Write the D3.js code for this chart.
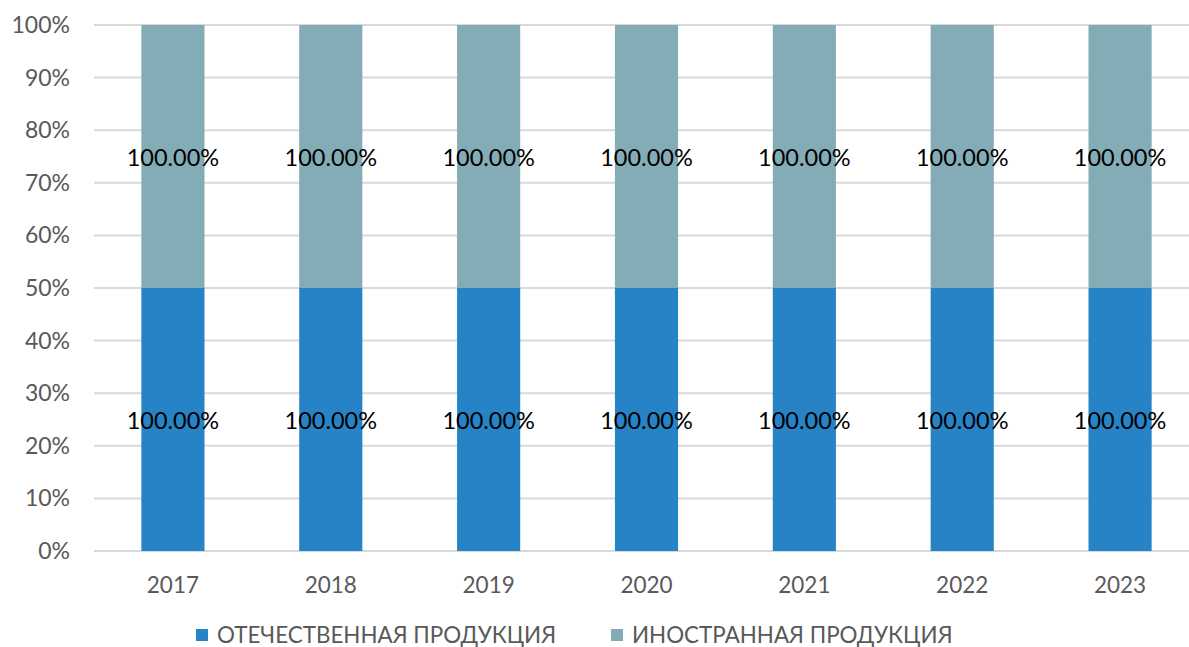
<!DOCTYPE html>
<html>
<head>
<meta charset="utf-8">
<script src="https://cdn.jsdelivr.net/npm/d3@7"></script>
<style>
  body { margin: 0; background: #fff; }
  svg { display: block; font-family: Lato, "Open Sans", sans-serif; }
</style>
</head>
<body>
<script>
const years = ['2017', '2018', '2019', '2020', '2021', '2022', '2023']
const seriesNames = ['ОТЕЧЕСТВЕННАЯ ПРОДУКЦИЯ', 'ИНОСТРАННАЯ ПРОДУКЦИЯ']
const domestic = [1, 1, 1, 1, 1, 1, 1]
const foreign = [1, 1, 1, 1, 1, 1, 1]
const yTicks = [0, 0.1, 0.2, 0.3, 0.4, 0.5, 0.6, 0.7, 0.8, 0.9, 1]
const colors = ['#2683C6', '#84ACB6']

const width = 1189, height = 647
const margin = {top: 25, right: -10, bottom: 96, left: 94}

const rows = years.map((y, i) => ({year: y, domestic: domestic[i], foreign: foreign[i]}))
const stack = d3.stack().keys(['domestic', 'foreign']).offset(d3.stackOffsetExpand)
const layers = stack(rows)

const x = d3.scaleBand()
  .domain(years)
  .range([margin.left, width - margin.right])
  .paddingInner(0.6)
  .paddingOuter(0.3)

const y = d3.scaleLinear()
  .domain([0, 1])
  .range([height - margin.bottom, margin.top])

const svg = d3.select('body').append('svg')
  .attr('width', width)
  .attr('height', height)

// gridlines
svg.append('g')
  .selectAll('line')
  .data(yTicks)
  .enter().append('line')
    .attr('x1', margin.left)
    .attr('x2', width - margin.right)
    .attr('y1', d => y(d))
    .attr('y2', d => y(d))
    .attr('stroke', '#D9D9D9')
    .attr('stroke-width', 2)

// y tick labels
svg.append('g')
  .selectAll('text')
  .data(yTicks)
  .enter().append('text')
    .attr('x', 70)
    .attr('y', d => y(d))
    .attr('dy', '0.35em')
    .attr('text-anchor', 'end')
    .attr('fill', '#595959')
    .style('font-size', '23px')
    .text(d3.format('.0%'))

// bars
const gLayers = svg.append('g')
  .selectAll('g')
  .data(layers)
  .enter().append('g')
    .attr('fill', (d, i) => colors[i])

gLayers.selectAll('rect')
  .data(d => d)
  .enter().append('rect')
    .attr('x', d => x(d.data.year))
    .attr('width', x.bandwidth())
    .attr('y', d => y(d[1]))
    .attr('height', d => y(d[0]) - y(d[1]))

// data labels (raw value shown as percent, like the original)
const gLabels = svg.append('g')
layers.forEach(layer => {
  gLabels.selectAll(null)
    .data(layer)
    .enter().append('text')
      .attr('x', d => x(d.data.year) + x.bandwidth() / 2)
      .attr('y', d => y((d[0] + d[1]) / 2) + 1)
      .attr('dy', '0.35em')
      .attr('text-anchor', 'middle')
      .attr('fill', '#000')
      .style('font-size', '23.5px')
      .text(d => d3.format('.2%')(d.data[layer.key]))
})

// x labels
svg.append('g')
  .selectAll('text')
  .data(years)
  .enter().append('text')
    .attr('x', d => x(d) + x.bandwidth() / 2)
    .attr('y', 593)
    .attr('text-anchor', 'middle')
    .attr('fill', '#595959')
    .style('font-size', '22.5px')
    .text(d => d)

// legend
const legendX = [196, 611]
const legend = svg.append('g')
  .selectAll('g')
  .data(seriesNames)
  .enter().append('g')
    .attr('transform', (d, i) => `translate(${legendX[i]},629)`)

legend.append('rect')
  .attr('width', 12)
  .attr('height', 12)
  .attr('fill', (d, i) => colors[i])

legend.append('text')
  .attr('x', 21)
  .attr('y', 6)
  .attr('dy', '0.35em')
  .attr('fill', '#595959')
  .style('font-size', '22.4px')
  .text(d => d)
</script>
</body>
</html>
